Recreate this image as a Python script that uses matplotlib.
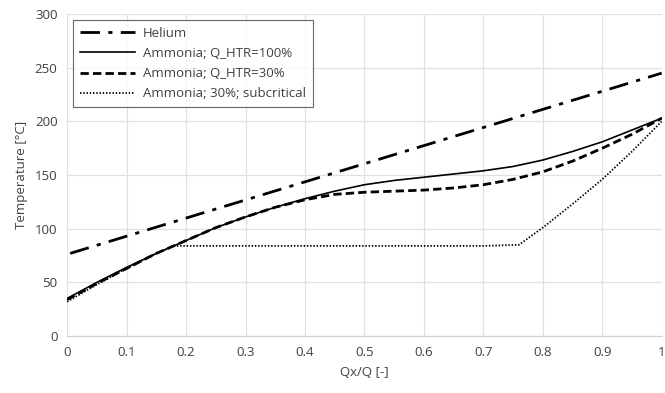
import matplotlib.pyplot as plt

plt.rcParams['font.family'] = ['Open Sans', 'DejaVu Sans']

# helium line
he_x = [0.005, 1.0]
he_y = [77, 245]

# ammonia, Q_HTR = 100%
a100_x = [0, 0.05, 0.1, 0.15, 0.2, 0.25, 0.3, 0.35, 0.4, 0.45, 0.5, 0.55, 0.6, 0.65, 0.7, 0.75, 0.8, 0.85, 0.9, 0.95, 1.0]
a100_y = [35, 50, 64, 77, 89, 101, 111, 120, 128, 135, 141, 145, 148, 151, 154, 158, 164, 172, 181, 192, 203]

# ammonia, Q_HTR = 30%
a30_x = [0, 0.05, 0.1, 0.15, 0.2, 0.25, 0.3, 0.35, 0.4, 0.45, 0.5, 0.55, 0.6, 0.65, 0.7, 0.75, 0.8, 0.85, 0.9, 0.95, 1.0]
a30_y = [34, 49, 63, 77, 89, 101, 111, 120, 127, 132, 134, 135, 136, 138, 141, 146, 153, 163, 175, 188, 203]

# ammonia, 30%, subcritical
sub_x = [0, 0.05, 0.1, 0.15, 0.18, 0.3, 0.5, 0.7, 0.76, 0.8, 0.85, 0.9, 0.95, 1.0]
sub_y = [32, 48, 63, 77, 84, 84, 84, 84, 85, 101, 123, 146, 172, 200]

fig, ax = plt.subplots(figsize=(6.65, 3.93), dpi=100)
fig.subplots_adjust(left=0.101, right=0.995, bottom=0.145, top=0.964)

ax.plot(he_x, he_y, color='black', lw=2, dashes=(7, 3, 1.5, 3), label='Helium')
ax.plot(a100_x, a100_y, color='black', lw=1.2, label='Ammonia; Q_HTR=100%')
ax.plot(a30_x, a30_y, color='black', lw=2, dashes=(3, 1.5), label='Ammonia; Q_HTR=30%')
ax.plot(sub_x, sub_y, color='black', lw=1.3, dashes=(0.8, 1.0), label='Ammonia; 30%; subcritical')

ax.set_xlim(0, 1)
ax.set_ylim(0, 300)
ax.set_xticks([0, 0.1, 0.2, 0.3, 0.4, 0.5, 0.6, 0.7, 0.8, 0.9, 1])
ax.set_xticklabels(['0', '0.1', '0.2', '0.3', '0.4', '0.5', '0.6', '0.7', '0.8', '0.9', '1'])
ax.set_yticks(range(0, 301, 50))
ax.grid(color='#e0e0e0', lw=0.9)
ax.set_axisbelow(True)
for s in ax.spines.values():
    s.set_visible(False)
ax.spines['bottom'].set_visible(True)
ax.spines['bottom'].set_color('#d0d0d0')
ax.tick_params(length=0, labelsize=9.5, colors='#404040', pad=7)
ax.set_xlabel('Qx/Q [-]', fontsize=9.5, color='#404040', labelpad=5)
ax.set_ylabel('Temperature [°C]', fontsize=9.5, color='#404040', labelpad=5)

leg = ax.legend(loc='upper left', fontsize=9.5, handlelength=4.2, handletextpad=0.6, frameon=True,
                fancybox=False, edgecolor='#404040', borderaxespad=0.45, labelspacing=0.55,
                borderpad=0.5)
leg.get_frame().set_linewidth(0.8)
for t in leg.get_texts():
    t.set_color('#404040')

plt.savefig('out.png', dpi=100)
